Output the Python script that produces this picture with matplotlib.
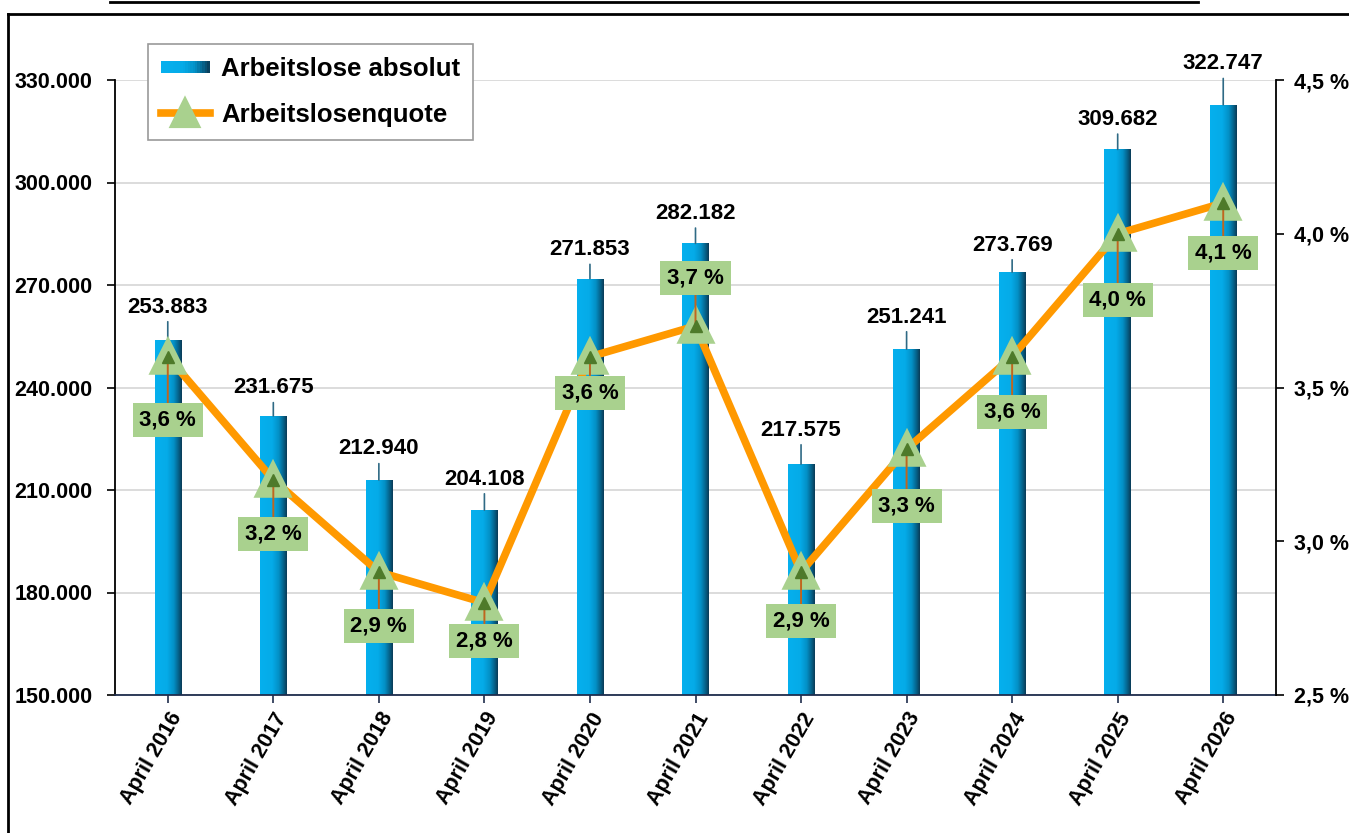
import matplotlib
matplotlib.use("Agg")
import matplotlib.pyplot as plt
import numpy as np
from matplotlib.colors import LinearSegmentedColormap
from matplotlib.lines import Line2D
from matplotlib.patches import Rectangle
from matplotlib.legend_handler import HandlerBase

# ---------------- data ----------------
categories = ["April 2016", "April 2017", "April 2018", "April 2019", "April 2020",
              "April 2021", "April 2022", "April 2023", "April 2024", "April 2025",
              "April 2026"]
arbeitslose = [253883, 231675, 212940, 204108, 271853, 282182, 217575, 251241,
               273769, 309682, 322747]
quote = [3.6, 3.2, 2.9, 2.8, 3.6, 3.7, 2.9, 3.3, 3.6, 4.0, 4.1]
left_ticks = [150000, 180000, 210000, 240000, 270000, 300000, 330000]
right_ticks = [2.5, 3.0, 3.5, 4.0, 4.5]

# label offsets (pixels): bar labels above bar top, pct labels relative to marker
bar_label_off = [33, 28, 31, 31, 29, 30, 34, 32, 27, 30, 41]
pct_label_off = [-63, -54, -54, -38, -36, 48, -49, -57, -55, -66, -50]

FONT = "Liberation Sans"
plt.rcParams["font.family"] = [FONT, "DejaVu Sans"]
plt.rcParams["font.weight"] = "bold"

W, H = 1349, 833
fig = plt.figure(figsize=(W / 100, H / 100), dpi=100)
ax_l, ax_r, ax_t, ax_b = 115, 1276, 80, 695
ax = fig.add_axes([ax_l / W, 1 - ax_b / H, (ax_r - ax_l) / W, (ax_b - ax_t) / H])

x = np.arange(len(categories))
bar_w = 0.25

cmap = LinearSegmentedColormap.from_list(
    "bar", [(0.0, "#06B0EE"), (0.45, "#05ABE8"), (0.7, "#0390C6"),
            (0.88, "#065F86"), (1.0, "#0A3A55")])
grad = np.linspace(0, 1, 256).reshape(1, -1)

bars = ax.bar(x, arbeitslose, width=bar_w, color="#06A8E4", edgecolor="none", zorder=2)
for b in bars:
    x0, y0 = b.get_x(), 150000
    x1, y1 = b.get_x() + b.get_width(), b.get_height()
    im = ax.imshow(grad, cmap=cmap, aspect="auto", extent=(x0, x1, y0, y1),
                   zorder=2.5, interpolation="bilinear")
    im.set_clip_path(b)

ax.set_xlim(-0.5, len(categories) - 0.5)
ax.set_ylim(150000, 330000)
ax.set_yticks(left_ticks)
ax.set_yticklabels([f"{v:,}".replace(",", ".") for v in left_ticks],
                   fontsize=15.5, fontweight="bold")
ax.set_xticks(x)
ax.set_xticklabels(categories, rotation=60, ha="right", rotation_mode="anchor",
                   fontsize=15.5, fontweight="bold")
ax.tick_params(axis="x", length=6, width=1.2, color="#1F2D4D", pad=4)
ax.tick_params(axis="y", length=6, width=1.2, color="black", pad=10)
ax.grid(axis="y", color="#D9D9D9", lw=1.3)
ax.set_axisbelow(True)
for s in ["top", "right"]:
    ax.spines[s].set_visible(False)
ax.spines["left"].set_color("black")
ax.spines["left"].set_linewidth(1.3)
ax.spines["bottom"].set_color("#1F2D4D")
ax.spines["bottom"].set_linewidth(1.3)

for xi, v, off in zip(x, arbeitslose, bar_label_off):
    ax.annotate(f"{v:,}".replace(",", "."), xy=(xi, v), xytext=(0, off),
                textcoords="offset pixels", ha="center", va="center",
                fontsize=16, fontweight="bold", zorder=5,
                arrowprops=dict(arrowstyle="-", color="#2F6A85", lw=1.2,
                                shrinkA=1, shrinkB=0, relpos=(0.5, 0)))

# secondary axis
ax2 = ax.twinx()
ax2.set_ylim(2.5, 4.5)
ax2.set_yticks(right_ticks)
ax2.set_yticklabels([f"{v:.1f} %".replace(".", ",") for v in right_ticks],
                    fontsize=15.5, fontweight="bold")
ax2.tick_params(axis="y", length=6, width=1.2, color="black", pad=7)
for s in ["top", "left", "bottom"]:
    ax2.spines[s].set_visible(False)
ax2.spines["right"].set_color("black")
ax2.spines["right"].set_linewidth(1.3)

ax2.plot(x, quote, color="#FF9900", lw=5.5, solid_capstyle="round",
         solid_joinstyle="round", zorder=3)
ax2.plot(x, quote, ls="none", marker="^", markersize=21, markerfacecolor="#A9D18E",
         markeredgecolor="#A9D18E", markeredgewidth=4, zorder=4)

for xi, q, off in zip(x, quote, pct_label_off):
    ax2.annotate(f"{q:.1f} %".replace(".", ","), xy=(xi, q), xytext=(0, off),
                 textcoords="offset pixels", ha="center", va="center",
                 fontsize=16, fontweight="bold", zorder=6,
                 bbox=dict(boxstyle="square,pad=0.3", fc="#A9D18E", ec="none"),
                 arrowprops=dict(arrowstyle="-", color="#C0651E", lw=1.4,
                                 shrinkA=0, shrinkB=0))
ax2.plot(x, quote, ls="none", marker="^", markersize=8, markerfacecolor="#4E7A2A",
         markeredgecolor="#4E7A2A", zorder=7)


# legend
class GradientHandler(HandlerBase):
    def create_artists(self, legend, orig_handle, xdescent, ydescent, width, height,
                       fontsize, trans):
        arts = []
        n = 20
        h = height * 0.7
        y0 = -ydescent + (height - h) / 2
        for i in range(n):
            c = cmap((i + 0.5) / n)
            r = Rectangle((-xdescent + width * i / n, y0), width / n + 0.3, h,
                          facecolor=c, edgecolor="none", transform=trans)
            arts.append(r)
        return arts


bar_handle = Rectangle((0, 0), 1, 1)
line_handle = Line2D([0], [0], color="#FF9900", lw=5.5, marker="^", markersize=19,
                     markerfacecolor="#A9D18E", markeredgecolor="#A9D18E",
                     markeredgewidth=3)
leg = ax2.legend([bar_handle, line_handle], ["Arbeitslose absolut", "Arbeitslosenquote"],
                 handler_map={Rectangle: GradientHandler()},
                 loc="upper left", bbox_to_anchor=((148 - ax_l) / (ax_r - ax_l),
                                                   (ax_b - 44) / (ax_b - ax_t)),
                 prop=dict(family=FONT, weight="bold", size=18.5), frameon=True,
                 fancybox=False, edgecolor="#9A9A9A", framealpha=1,
                 handlelength=1.9, handletextpad=0.45, labelspacing=0.85,
                 borderpad=0.5, borderaxespad=0)
leg.get_frame().set_linewidth(1.2)
leg.set_zorder(10)

# outer frame lines
fig.add_artist(Line2D([8 / W, 8 / W], [0, 1 - 14 / H], color="black", lw=2,
                      transform=fig.transFigure))
fig.add_artist(Line2D([8 / W, 1], [1 - 14 / H, 1 - 14 / H], color="black", lw=2,
                      transform=fig.transFigure))
fig.add_artist(Line2D([110 / W, 1198 / W], [1 - 1.5 / H, 1 - 1.5 / H], color="black",
                      lw=2, transform=fig.transFigure))

fig.savefig("out.png", dpi=100)
